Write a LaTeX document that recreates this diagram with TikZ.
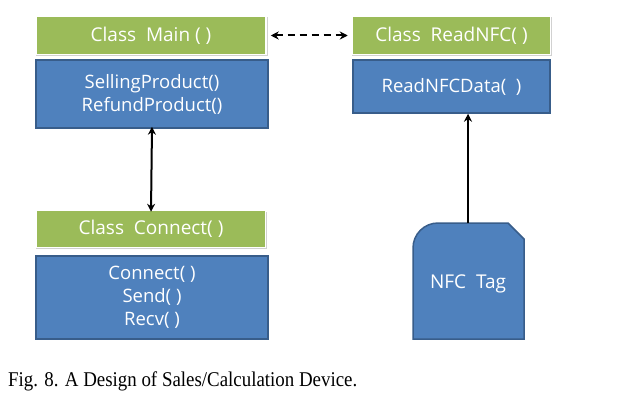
\documentclass[tikz,border=0pt]{standalone}
\usepackage{fontspec}
\setmainfont{Liberation Serif}
\newfontfamily\diagfont{Open Sans}
\usetikzlibrary{arrows.meta}
\definecolor{hgreen}{RGB}{155,187,89}
\definecolor{bblue}{RGB}{79,129,189}
\definecolor{bborder}{RGB}{56,93,138}
\tikzset{
  header/.style={rectangle, fill=hgreen, draw=white, line width=1.5pt, text=white,
    font=\diagfont\fontsize{19}{22}\selectfont, inner sep=0pt, anchor=center},
  bodybox/.style={rectangle, fill=bblue, draw=bborder, line width=1.5pt, text=white,
    font=\diagfont\fontsize{18.5}{23}\selectfont, inner sep=0pt, align=center, anchor=center},
  shade/.style={fill=black!18},
  conn/.style={line width=2pt, {Stealth[length=8pt,width=8pt]}-{Stealth[length=8pt,width=8pt]}},
  oneway/.style={line width=2pt, -{Stealth[length=8pt,width=8pt]}}
}
\begin{document}
\begin{tikzpicture}[x=1pt,y=-1pt]
\useasboundingbox (0,0) rectangle (617,404);
\fill[white] (0,0) rectangle (617,404);
% shadows of headers
\fill[shade] (36,17.5) rectangle (268,56);
\fill[shade] (352,17.5) rectangle (552,56);
\fill[shade] (36,211.5) rectangle (267,249);
% headers
\node[header, minimum width=230, minimum height=38] (mhead) at (151,35.5) {Class\ \ Main ( )};
\node[header, minimum width=198, minimum height=38] (rhead) at (451.5,35.5) {Class\ \ ReadNFC( )};
\node[header, minimum width=229, minimum height=37] (chead) at (151,229) {Class\ \ Connect( )};
% bodies
\node[bodybox, minimum width=232, minimum height=68] (mbody) at (152,94) {SellingProduct()\\RefundProduct()};
\node[bodybox, minimum width=197, minimum height=53] (rbody) at (451.5,86.5) {ReadNFCData(\ \ )};
\node[bodybox, minimum width=232, minimum height=83] (cbody) at (152,297.5) {Connect( )\\Send( )\\Recv( )};
% NFC tag
\filldraw[fill=bblue, draw=bborder, line width=1.5pt]
  (413,339) -- (413,248) arc[start angle=180, end angle=270, radius=25] -- (508,223) -- (524,239) -- (524,339) -- cycle;
\coordinate (tagtop) at (468,223);
\node[text=white, font=\diagfont\fontsize{19}{22}\selectfont] (tag) at (468,284) {NFC\ \ Tag};
% connectors
\draw[conn, dashed, dash pattern=on 7pt off 5pt] ([xshift=4pt]mhead.east) -- ([xshift=-4pt]rhead.west);
\draw[conn] ([yshift=2pt]mbody.south) -- ([yshift=-2pt]chead.north);
\draw[oneway] (tagtop) -- (tagtop |- rbody.south);
% caption
\node[anchor=base west, inner sep=0pt, font=\fontsize{21}{24}\selectfont] (cap) at (8,386)
  {\scalebox{0.9}[1]{Fig. 8. A Design of Sales/Calculation Device.}};
\end{tikzpicture}
\end{document}
